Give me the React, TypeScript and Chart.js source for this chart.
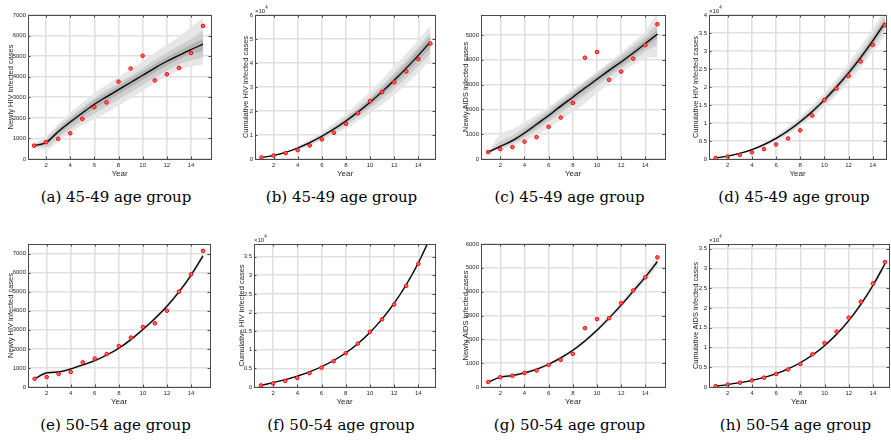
import React, { useEffect, useRef } from "react";
import { Chart, registerables } from "chart.js";
Chart.register(...registerables);

const years = [1, 2, 3, 4, 5, 6, 7, 8, 9, 10, 11, 12, 13, 14, 15];
const xTickVals = [2, 4, 6, 8, 10, 12, 14];

// (a) Newly HIV, 45-49
const aPts = [650, 820, 980, 1250, 1950, 2520, 2750, 3760, 4400, 5020, 3820, 4120, 4430, 5150, 6470];
const aFit = [650, 800, 1330, 1800, 2240, 2660, 3020, 3370, 3720, 4070, 4420, 4750, 5040, 5320, 5580];
const aOutLo = [550, 450, 850, 1250, 1650, 1950, 2250, 2600, 2950, 3300, 3700, 4050, 4300, 4500, 4600];
const aOutHi = [750, 1100, 1700, 2250, 2750, 3200, 3600, 4000, 4350, 4750, 5150, 5550, 5950, 6400, 6850];
const aMidLo = [600, 600, 1050, 1450, 1850, 2200, 2550, 2900, 3250, 3600, 3950, 4300, 4600, 4800, 4950];
const aMidHi = [700, 1000, 1550, 2050, 2500, 2950, 3350, 3700, 4050, 4400, 4800, 5150, 5500, 5850, 6250];
const aInLo = [630, 720, 1200, 1650, 2050, 2450, 2800, 3150, 3500, 3850, 4200, 4550, 4850, 5100, 5250];
const aInHi = [670, 880, 1450, 1950, 2400, 2850, 3200, 3550, 3900, 4250, 4600, 4950, 5250, 5550, 5850];

// (b) Cumulative HIV, 45-49
const bPts = [650, 1470, 2450, 3700, 5650, 8170, 10920, 14680, 19080, 24100, 27920, 32040, 36470, 41620, 48090];
const bFit = [650, 1450, 2780, 4580, 6820, 9480, 12500, 15870, 19590, 23660, 28080, 32830, 37870, 43190, 48770];
const bOutLo = [600, 1250, 2350, 3800, 5600, 7700, 10100, 12800, 15800, 19100, 22700, 26700, 31000, 36000, 41500];
const bOutHi = [700, 1650, 3200, 5400, 8100, 11300, 14900, 18900, 23300, 28100, 33200, 38500, 44000, 49500, 55500];
const bMidLo = [620, 1330, 2550, 4150, 6150, 8500, 11200, 14200, 17500, 21100, 25000, 29300, 33800, 38700, 44000];
const bMidHi = [680, 1570, 3000, 5000, 7450, 10350, 13700, 17400, 21500, 25900, 30700, 35800, 41200, 46800, 52500];
const bInLo = [640, 1400, 2680, 4380, 6500, 9000, 11900, 15100, 18600, 22400, 26600, 31100, 35900, 41000, 46400];
const bInHi = [660, 1500, 2880, 4780, 7140, 9960, 13100, 16640, 20580, 24920, 29560, 34560, 39840, 45380, 51140];

// (c) Newly AIDS, 45-49
const cPts = [280, 400, 480, 700, 880, 1300, 1670, 2260, 4080, 4310, 3190, 3520, 4040, 4590, 5430];
const cFit = [280, 510, 740, 1050, 1400, 1750, 2130, 2490, 2860, 3210, 3570, 3910, 4270, 4650, 5030];
const cOutLo = [260, 380, 520, 720, 970, 1250, 1570, 1900, 2250, 2650, 3050, 3450, 3800, 4050, 4100];
const cOutHi = [300, 1000, 1200, 1480, 1780, 2100, 2450, 2800, 3150, 3520, 3900, 4280, 4700, 5150, 5900];
const cMidLo = [265, 430, 610, 870, 1180, 1500, 1850, 2200, 2560, 2920, 3300, 3650, 4000, 4330, 4600];
const cMidHi = [295, 700, 950, 1280, 1620, 1980, 2350, 2720, 3090, 3450, 3820, 4180, 4560, 4960, 5450];
const cInLo = [272, 470, 680, 960, 1290, 1630, 2000, 2350, 2720, 3070, 3430, 3770, 4130, 4500, 4850];
const cInHi = [288, 560, 810, 1140, 1500, 1860, 2250, 2620, 2990, 3340, 3700, 4050, 4420, 4800, 5220];

// (d) Cumulative, 45-49
const dPts = [280, 680, 1160, 1860, 2740, 4040, 5710, 7970, 12050, 16360, 19550, 23070, 27110, 31700, 37130];
const dFit = [280, 790, 1530, 2580, 3980, 5730, 7860, 10350, 13210, 16420, 19990, 23900, 28170, 32820, 37850];
const dOutLo = [260, 700, 1330, 2200, 3400, 4900, 6800, 9000, 11600, 14500, 17700, 21300, 25300, 29700, 34300];
const dOutHi = [300, 880, 1750, 2980, 4600, 6600, 9000, 11800, 14900, 18400, 22300, 26600, 31300, 36200, 41500];
const dMidLo = [268, 740, 1420, 2380, 3680, 5300, 7300, 9650, 12350, 15400, 18800, 22550, 26650, 31100, 35900];
const dMidHi = [292, 840, 1650, 2790, 4300, 6170, 8450, 11080, 14080, 17460, 21200, 25300, 29750, 34600, 39900];
const dInLo = [275, 765, 1480, 2490, 3840, 5530, 7590, 10000, 12780, 15900, 19370, 23200, 27380, 31950, 36850];
const dInHi = [285, 815, 1580, 2670, 4120, 5930, 8130, 10700, 13640, 16940, 20610, 24600, 28960, 33690, 38850];

// (e) Newly HIV, 50-54
const ePts = [430, 520, 680, 790, 1290, 1490, 1730, 2150, 2590, 3150, 3340, 4000, 5000, 5910, 7140];
const eFit = [430, 735, 790, 945, 1155, 1383, 1680, 2030, 2485, 3010, 3590, 4235, 4990, 5860, 6880];
const eOutLo = [420, 640, 710, 870, 1080, 1300, 1590, 1930, 2380, 2900, 3470, 4110, 4850, 5710, 6700];
const eOutHi = [440, 860, 890, 1030, 1240, 1470, 1770, 2130, 2590, 3120, 3710, 4360, 5130, 6010, 7060];
const eMidLo = [425, 690, 750, 910, 1120, 1345, 1640, 1985, 2437, 2960, 3535, 4178, 4925, 5790, 6800];
const eMidHi = [435, 800, 835, 985, 1190, 1420, 1720, 2075, 2533, 3060, 3645, 4292, 5055, 5930, 6960];
const eInLo = [428, 715, 770, 928, 1138, 1364, 1660, 2008, 2461, 2985, 3562, 4206, 4958, 5825, 6840];
const eInHi = [432, 765, 812, 965, 1172, 1402, 1700, 2052, 2509, 3035, 3618, 4264, 5022, 5895, 6920];

// (f) Cumulative HIV, 50-54
const fPts = [430, 950, 1630, 2420, 3710, 5200, 6930, 9080, 11670, 14820, 18160, 22160, 27160, 33070, 40210];
const fFit = [430, 1165, 1955, 2900, 4055, 5438, 7118, 9148, 11633, 14643, 18233, 22468, 27458, 33318, 40198];
const fOutLo = [420, 1120, 1880, 2800, 3930, 5280, 6920, 8900, 11330, 14270, 17780, 21930, 26820, 32570, 39320];
const fOutHi = [440, 1210, 2030, 3000, 4180, 5600, 7320, 9400, 11940, 15020, 18690, 23010, 28100, 34070, 41080];
const fMidLo = [425, 1140, 1915, 2850, 3990, 5360, 7020, 9020, 11480, 14460, 18000, 22200, 27140, 32950, 39760];
const fMidHi = [435, 1190, 1995, 2950, 4120, 5520, 7220, 9280, 11790, 14830, 18460, 22740, 27780, 33690, 40640];
const fInLo = [428, 1155, 1935, 2875, 4022, 5400, 7070, 9085, 11555, 14550, 18115, 22335, 27300, 33135, 39980];
const fInHi = [432, 1175, 1975, 2925, 4088, 5476, 7166, 9211, 11711, 14736, 18351, 22601, 27616, 33501, 40416];

// (g) Newly AIDS, 50-54
const gPts = [210, 410, 470, 590, 690, 930, 1140, 1390, 2470, 2850, 2890, 3520, 4050, 4600, 5440];
const gFit = [210, 410, 477, 590, 743, 953, 1220, 1540, 1935, 2383, 2888, 3435, 4024, 4613, 5257];
const gOutLo = [200, 360, 420, 530, 680, 880, 1140, 1450, 1840, 2280, 2770, 3300, 3880, 4450, 5050];
const gOutHi = [220, 490, 590, 690, 830, 1040, 1310, 1640, 2040, 2500, 3020, 3580, 4180, 4800, 5490];
const gMidLo = [205, 385, 450, 560, 710, 915, 1180, 1495, 1887, 2330, 2830, 3370, 3950, 4530, 5150];
const gMidHi = [215, 440, 520, 630, 780, 990, 1260, 1585, 1983, 2436, 2946, 3500, 4098, 4696, 5364];
const gInLo = [208, 398, 462, 575, 727, 935, 1200, 1518, 1911, 2357, 2860, 3403, 3987, 4572, 5205];
const gInHi = [212, 422, 492, 605, 759, 971, 1240, 1562, 1959, 2409, 2916, 3467, 4061, 4654, 5309];

// (h) Cumulative AIDS, 50-54
const hPts = [210, 620, 1090, 1680, 2370, 3300, 4440, 5830, 8300, 11150, 14040, 17560, 21610, 26210, 31650];
const hFit = [210, 620, 1097, 1687, 2430, 3383, 4603, 6143, 8078, 10461, 13349, 16784, 20900, 25700, 31200];
const hOutLo = [200, 590, 1050, 1610, 2320, 3230, 4400, 5880, 7750, 10050, 12840, 16180, 20170, 24900, 30200];
const hOutHi = [220, 650, 1150, 1770, 2550, 3540, 4810, 6410, 8410, 10870, 13860, 17390, 21630, 26500, 32200];
const hMidLo = [205, 605, 1073, 1648, 2375, 3306, 4500, 6010, 7910, 10255, 13095, 16480, 20535, 25300, 30700];
const hMidHi = [215, 635, 1121, 1726, 2485, 3460, 4706, 6276, 8246, 10667, 13603, 17088, 21265, 26100, 31700];
const hInLo = [208, 612, 1085, 1667, 2402, 3344, 4551, 6076, 7994, 10358, 13222, 16632, 20717, 25500, 30950];
const hInHi = [212, 628, 1109, 1707, 2458, 3422, 4655, 6210, 8162, 10564, 13476, 16936, 21083, 25900, 31450];

const ticksA = [0, 1000, 2000, 3000, 4000, 5000, 6000, 7000];
const ticksB = [0, 10000, 20000, 30000, 40000, 50000, 60000];
const ticksC = [0, 1000, 2000, 3000, 4000, 5000];
const ticksD = [0, 5000, 10000, 15000, 20000, 25000, 30000, 35000, 40000];
const ticksG = [0, 1000, 2000, 3000, 4000, 5000, 6000];
const ticksF = [0, 5000, 10000, 15000, 20000, 25000, 30000, 35000];

type Panel = {
  caption: string;
  yTitle: string;
  yMax: number;
  yTicks: number[];
  div: number;
  exp: boolean;
  pts: number[];
  fit: number[];
  bands: [number[], number[]][];
  box: { l: number; t: number; r: number; b: number; tx: number; xMin: number; xMax: number };
};

const panels: Panel[] = [
  { caption: "(a) 45-49 age group", yTitle: "Newly HIV infected cases", yMax: 7000, yTicks: ticksA, div: 1, exp: false,
    pts: aPts, fit: aFit, bands: [[aInLo, aInHi], [aMidLo, aMidHi], [aOutLo, aOutHi]],
    box: { l: 28, t: 15, r: 211, b: 159, tx: 10, xMin: 0.5, xMax: 15.66 } },
  { caption: "(b) 45-49 age group", yTitle: "Cumulative HIV infected cases", yMax: 60000, yTicks: ticksB, div: 10000, exp: true,
    pts: bPts, fit: bFit, bands: [[bInLo, bInHi], [bMidLo, bMidHi], [bOutLo, bOutHi]],
    box: { l: 255, t: 15, r: 435, b: 159, tx: 245, xMin: 0.46, xMax: 15.38 } },
  { caption: "(c) 45-49 age group", yTitle: "Newly AIDS infected cases", yMax: 5800, yTicks: ticksC, div: 1, exp: false,
    pts: cPts, fit: cFit, bands: [[cInLo, cInHi], [cMidLo, cMidHi], [cOutLo, cOutHi]],
    box: { l: 481, t: 15, r: 665, b: 159, tx: 465, xMin: 0.4, xMax: 15.63 } },
  { caption: "(d) 45-49 age group", yTitle: "Cumulative HIV infected cases", yMax: 40000, yTicks: ticksD, div: 10000, exp: true,
    pts: dPts, fit: dFit, bands: [[dInLo, dInHi], [dMidLo, dMidHi], [dOutLo, dOutHi]],
    box: { l: 709, t: 15, r: 886, b: 159, tx: 695, xMin: 0.45, xMax: 15.1 } },
  { caption: "(e) 50-54 age group", yTitle: "Newly HIV infected cases", yMax: 7500, yTicks: ticksA, div: 1, exp: false,
    pts: ePts, fit: eFit, bands: [[eInLo, eInHi], [eMidLo, eMidHi], [eOutLo, eOutHi]],
    box: { l: 28, t: 244, r: 210, b: 387, tx: 10, xMin: 0.45, xMax: 15.58 } },
  { caption: "(f) 50-54 age group", yTitle: "Cumulative HIV infected cases", yMax: 38400, yTicks: ticksF, div: 10000, exp: true,
    pts: fPts, fit: fFit, bands: [[fInLo, fInHi], [fMidLo, fMidHi], [fOutLo, fOutHi]],
    box: { l: 254, t: 244, r: 435, b: 387, tx: 241, xMin: 0.42, xMax: 15.38 } },
  { caption: "(g) 50-54 age group", yTitle: "Newly AIDS infected cases", yMax: 6000, yTicks: ticksG, div: 1, exp: false,
    pts: gPts, fit: gFit, bands: [[gInLo, gInHi], [gMidLo, gMidHi], [gOutLo, gOutHi]],
    box: { l: 481, t: 244, r: 665, b: 387, tx: 465, xMin: 0.4, xMax: 15.63 } },
  { caption: "(h) 50-54 age group", yTitle: "Cumulative AIDS infected cases", yMax: 36200, yTicks: ticksF, div: 10000, exp: true,
    pts: hPts, fit: hFit, bands: [[hInLo, hInHi], [hMidLo, hMidHi], [hOutLo, hOutHi]],
    box: { l: 709, t: 244, r: 889, b: 387, tx: 695, xMin: 0.45, xMax: 15.33 } },
];

const bandColors = ["#b4b4b4", "#cfcfcf", "#e6e6e6"];
const SANS = "'Liberation Sans', Arimo, Arial, sans-serif";
const NARROW = "'Liberation Sans Narrow', 'Liberation Sans', Arial, sans-serif";
const SERIF = "'DejaVu Serif', 'Liberation Serif', serif";

const framePlugin = {
  id: "frame",
  afterDraw(chart: any) {
    const { ctx, chartArea: ca, scales } = chart;
    ctx.save();
    ctx.strokeStyle = "#4a4a4a";
    ctx.lineWidth = 1;
    ctx.strokeRect(Math.round(ca.left) + 0.5, Math.round(ca.top) + 0.5, Math.round(ca.right - ca.left), Math.round(ca.bottom - ca.top));
    const tl = 2.5;
    ctx.beginPath();
    for (const t of scales.x.ticks) {
      const px = Math.round(scales.x.getPixelForValue(t.value)) + 0.5;
      ctx.moveTo(px, ca.bottom); ctx.lineTo(px, ca.bottom - tl);
      ctx.moveTo(px, ca.top); ctx.lineTo(px, ca.top + tl);
    }
    for (const t of scales.y.ticks) {
      const py = Math.round(scales.y.getPixelForValue(t.value)) + 0.5;
      ctx.moveTo(ca.left, py); ctx.lineTo(ca.left + tl, py);
      ctx.moveTo(ca.right, py); ctx.lineTo(ca.right - tl, py);
    }
    ctx.stroke();
    ctx.restore();
  },
};

function PanelChart({ p }: { p: Panel }) {
  const ref = useRef<HTMLCanvasElement>(null);
  const bx = p.box;
  const left = Math.round(bx.tx - 5.5);
  const top = bx.t - 8;
  const width = bx.r + 6 - left;
  const height = bx.b + 21 - top;

  useEffect(() => {
    if (!ref.current) return;
    const xy = (arr: number[]) => years.map((x, i) => ({ x, y: arr[i] }));
    const datasets: any[] = [
      { data: xy(p.pts), showLine: false, pointRadius: 1.8, pointBackgroundColor: "#ff6a6a", pointBorderColor: "#ff0000", pointBorderWidth: 1 },
      { data: xy(p.fit), borderColor: "#000000", borderWidth: 1.3, pointRadius: 0, cubicInterpolationMode: "monotone", fill: false },
    ];
    p.bands.forEach((band, k) => {
      const loIdx = datasets.length;
      datasets.push({ data: xy(band[0]), borderWidth: 0, pointRadius: 0, cubicInterpolationMode: "monotone", fill: false, borderColor: "rgba(0,0,0,0)" });
      datasets.push({ data: xy(band[1]), borderWidth: 0, pointRadius: 0, cubicInterpolationMode: "monotone", fill: loIdx, backgroundColor: bandColors[k], borderColor: "rgba(0,0,0,0)" });
    });
    const chart = new Chart(ref.current, {
      type: "line",
      data: { datasets },
      plugins: [framePlugin],
      options: {
        animation: false,
        responsive: false,
        events: [],
        layout: { padding: { top: 8, right: 6, left: 0, bottom: 0 } },
        plugins: { legend: { display: false }, tooltip: { enabled: false } },
        scales: {
          x: {
            type: "linear", min: bx.xMin, max: bx.xMax,
            afterBuildTicks: (s: any) => { s.ticks = xTickVals.map((v) => ({ value: v })); },
            afterFit: (s: any) => { s.height = 21; },
            grid: { color: "#e0e0e0", lineWidth: 1.6, drawTicks: false },
            border: { display: false },
            ticks: { padding: 3, font: { family: NARROW, size: 6 }, color: "#262626", maxRotation: 0 },
            title: { display: true, text: "Year", font: { family: NARROW, size: 8 }, color: "#262626", padding: { top: 0, bottom: 1.5 } },
          },
          y: {
            type: "linear", min: 0, max: p.yMax,
            afterBuildTicks: (s: any) => { s.ticks = p.yTicks.map((v) => ({ value: v })); },
            afterFit: (s: any) => { s.width = bx.l - left; },
            grid: { color: "#e0e0e0", lineWidth: 1.6, drawTicks: false },
            border: { display: false },
            ticks: { padding: 2, font: { family: NARROW, size: 6 }, color: "#262626", callback: (v: any) => String(Number(v) / p.div) },
            title: { display: true, text: p.yTitle, font: { family: SANS, size: 7.5 }, color: "#262626", padding: { top: 1, bottom: 0 } },
          },
        },
      } as any,
    });
    return () => chart.destroy();
  }, []);

  return (
    <>
      <canvas ref={ref} width={width} height={height} style={{ position: "absolute", left, top, width, height }} />
      {p.exp && (
        <div style={{ position: "absolute", left: bx.l, top: bx.t - 7, fontFamily: NARROW, fontSize: 6, color: "#262626", lineHeight: 1, whiteSpace: "nowrap" }}>
          ×10<sup style={{ fontSize: 4.5, verticalAlign: "top", position: "relative", top: -2 }}>4</sup>
        </div>
      )}
      <div style={{ position: "absolute", left: (bx.l + bx.r) / 2 - 3.5 - 100, top: bx.b + 28, width: 200, textAlign: "center", fontFamily: SERIF, fontSize: 15, color: "#000", whiteSpace: "nowrap", lineHeight: "20px" }}>
        {p.caption}
      </div>
    </>
  );
}

export default function App() {
  return (
    <div style={{ position: "fixed", left: 0, top: 0, width: 891, height: 440, background: "#fff", overflow: "hidden" }}>
      {panels.map((p, i) => <PanelChart key={i} p={p} />)}
    </div>
  );
}
